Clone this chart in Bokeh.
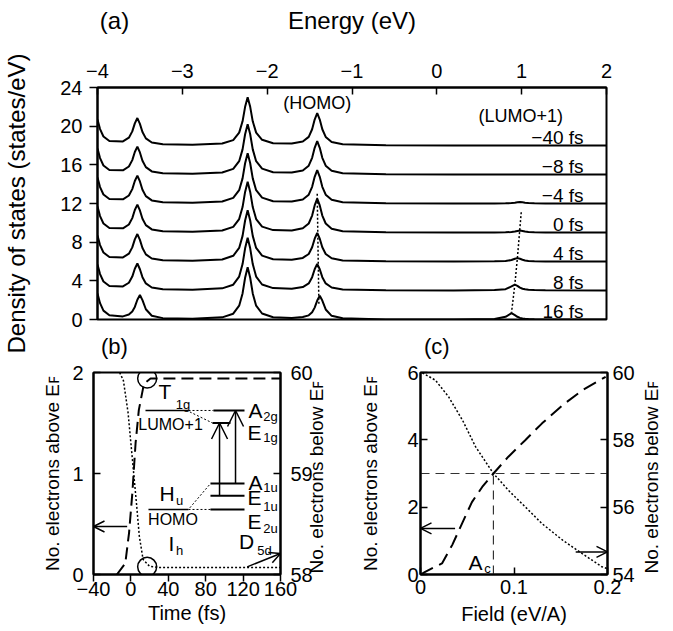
import math
from bokeh.plotting import figure
from bokeh.layouts import column, row
from bokeh.models import Range1d, LinearAxis, Label, Arrow, OpenHead, FixedTicker
from bokeh.embed import file_html
from bokeh.resources import INLINE
from bokeh.core.properties import value

FONT = "Liberation Sans"

# ---------------- (a) density of states ----------------
energy = [-4.00, -3.97, -3.93, -3.86, -3.70, -3.63, -3.59, -3.56, -3.53, -3.50, -3.47, -3.43, -3.36, -3.23, -2.88,
          -2.53, -2.40, -2.33, -2.29, -2.26, -2.23, -2.20, -2.17, -2.13, -2.06, -1.93,
          -1.71, -1.58, -1.51, -1.47, -1.44, -1.41, -1.38, -1.35, -1.31, -1.24, -1.11,
          -0.60, 0.20, 0.68, 0.81, 0.88, 0.92, 0.95, 0.98, 1.01, 1.04, 1.08, 1.15, 1.28, 2.00]
delay_labels = ["−40 fs", "−8 fs", "−4 fs", "0 fs", "4 fs", "8 fs", "16 fs"]
delay_offsets = [18, 15, 12, 9, 6, 3, 0]
dos_m40 = [2.69, 1.70, 0.93, 0.46, 0.42, 0.81, 1.46, 2.29, 2.84, 2.24, 1.40, 0.74, 0.31, 0.13, 0.07,
           0.20, 0.56, 1.33, 2.50, 4.00, 5.00, 4.00, 2.50, 1.33, 0.59, 0.23,
           0.20, 0.41, 0.89, 1.68, 2.68, 3.35, 2.68, 1.68, 0.89, 0.37, 0.13,
           0.02, 0.00, 0.00, 0.00, 0.00, 0.00, 0.00, 0.00, 0.00, 0.00, 0.00, 0.00, 0.00, 0.00]
dos_m8 = [2.69, 1.70, 0.93, 0.46, 0.43, 0.83, 1.49, 2.33, 2.89, 2.28, 1.43, 0.76, 0.32, 0.13, 0.07,
          0.21, 0.58, 1.38, 2.60, 4.16, 5.20, 4.16, 2.60, 1.38, 0.61, 0.24,
          0.20, 0.42, 0.91, 1.73, 2.76, 3.45, 2.76, 1.73, 0.91, 0.38, 0.13,
          0.02, 0.00, 0.00, 0.00, 0.00, 0.00, 0.00, 0.00, 0.00, 0.00, 0.00, 0.00, 0.00, 0.00]
dos_m4 = [2.69, 1.70, 0.93, 0.46, 0.43, 0.83, 1.49, 2.33, 2.89, 2.28, 1.43, 0.76, 0.32, 0.13, 0.07,
          0.21, 0.58, 1.38, 2.60, 4.16, 5.20, 4.16, 2.60, 1.38, 0.61, 0.24,
          0.20, 0.42, 0.91, 1.73, 2.76, 3.45, 2.76, 1.73, 0.91, 0.38, 0.13,
          0.02, 0.00, 0.01, 0.02, 0.04, 0.08, 0.12, 0.15, 0.12, 0.08, 0.04, 0.02, 0.01, 0.00]
dos_0 = [2.69, 1.70, 0.93, 0.46, 0.43, 0.83, 1.49, 2.33, 2.89, 2.28, 1.43, 0.76, 0.32, 0.13, 0.07,
         0.21, 0.58, 1.39, 2.63, 4.20, 5.25, 4.20, 2.63, 1.39, 0.61, 0.25,
         0.20, 0.43, 0.93, 1.75, 2.80, 3.50, 2.80, 1.75, 0.93, 0.39, 0.13,
         0.02, 0.00, 0.01, 0.02, 0.05, 0.10, 0.16, 0.20, 0.16, 0.10, 0.05, 0.02, 0.01, 0.00]
dos_4 = [2.69, 1.70, 0.93, 0.46, 0.42, 0.81, 1.46, 2.29, 2.84, 2.24, 1.40, 0.74, 0.31, 0.13, 0.07,
         0.21, 0.59, 1.40, 2.65, 4.24, 5.30, 4.24, 2.65, 1.40, 0.61, 0.24,
         0.18, 0.37, 0.78, 1.48, 2.36, 2.95, 2.36, 1.48, 0.78, 0.33, 0.11,
         0.02, 0.00, 0.02, 0.05, 0.15, 0.28, 0.35, 0.28, 0.18, 0.11, 0.06, 0.03, 0.01, 0.00]
dos_8 = [2.69, 1.70, 0.93, 0.46, 0.42, 0.80, 1.44, 2.25, 2.79, 2.20, 1.38, 0.73, 0.31, 0.13, 0.07,
         0.22, 0.60, 1.44, 2.73, 4.36, 5.45, 4.36, 2.73, 1.44, 0.62, 0.25,
         0.18, 0.36, 0.73, 1.38, 2.20, 2.75, 2.20, 1.38, 0.73, 0.31, 0.11,
         0.02, 0.00, 0.04, 0.14, 0.42, 0.60, 0.48, 0.30, 0.18, 0.12, 0.07, 0.04, 0.02, 0.00]
dos_16 = [2.68, 1.69, 0.92, 0.44, 0.32, 0.51, 0.83, 1.30, 2.04, 2.53, 2.00, 1.06, 0.39, 0.14, 0.07,
          0.22, 0.60, 1.43, 2.70, 4.32, 5.40, 4.32, 2.70, 1.43, 0.62, 0.24,
          0.15, 0.25, 0.43, 0.75, 1.23, 1.96, 2.45, 1.96, 1.04, 0.38, 0.12,
          0.01, 0.00, 0.05, 0.28, 0.65, 0.45, 0.28, 0.17, 0.11, 0.08, 0.05, 0.03, 0.01, 0.00]
dos_curves = [dos_m40, dos_m8, dos_m4, dos_0, dos_4, dos_8, dos_16]
homo_trace_e = [-1.41, -1.40, -1.39]
homo_trace_y = [13.0, 7.0, 1.45]
lumo_trace_e = [0.995, 0.975, 0.95, 0.92, 0.88]
lumo_trace_y = [11.1, 9.0, 6.4, 3.65, 0.7]
energy_ticks = [-4, -3, -2, -1, 0, 1, 2]
energy_tick_text = ["−4", "−3", "−2", "−1", "0", "1", "2"]
dos_ticks = [0, 4, 8, 12, 16, 20, 24]
orbital_names = ["(HOMO)", "(LUMO+1)"]
orbital_e = [-1.41, 0.99]
orbital_y = [22.4, 21.1]
delay_label_e = 1.73
top_title_e = [-3.80, -1.0]
top_title_text = ["(a)", "Energy (eV)"]
lower_tag_e = [-3.80, 0.0]
lower_tag_text = ["(b)", "(c)"]

# ---------------- (b) time evolution ----------------
time_above = [-15, -6, -2, 1.5, 5, 8.5, 14, 21, 160]
n_above_b = [0.0, 0.11, 0.41, 0.80, 1.30, 1.63, 1.89, 1.94, 1.94]
time_below = [-12, -8, -3, 1, 3, 6, 9, 13, 20, 30, 160]
n_below_b = [60.0, 59.92, 59.6, 59.2, 59.0, 58.7, 58.38, 58.15, 58.08, 58.07, 58.07]
time_ticks = [-40, 0, 40, 80, 120, 160]
time_tick_text = ["−40", "0", "40", "80", "120", "160"]
circle_t = [17.4, 17.4]
circle_n = [1.94, 0.076]
ih_t0 = [15.6, 18.8]
ih_t1 = [61.6, 61.6]
ih_level = [1.624, 0.644]
d5d_t0 = [88.3, 87.3, 85.1, 85.1, 85.1]
d5d_t1 = [121.5, 106.5, 121.5, 121.5, 121.5]
d5d_level = [1.624, 1.50, 0.90, 0.78, 0.644]
corr_t0 = [61.6, 63.0, 61.6, 63.0]
corr_v0 = [1.624, 1.61, 0.644, 0.66]
corr_t1 = [88.3, 87.3, 85.1, 85.1]
corr_v1 = [1.624, 1.50, 0.644, 0.90]
excite_t = [94.8, 111.9]
excite_from = [0.78, 0.90]
excite_to = [1.50, 1.624]
inset_text = ["T", "1g", "LUMO+1", "H", "u", "HOMO", "I", "h", "D", "5d",
              "A", "2g", "E", "1g", "A", "1u", "E", "1u", "E", "2u"]
inset_t = [36.5, 55.7, 42.4, 38.6, 52.0, 45.0, 43.4, 52.0, 123.6, 142.9,
           133.3, 149.3, 132.2, 149.3, 133.3, 149.3, 132.2, 149.3, 132.2, 149.3]
inset_v = [1.807, 1.683, 1.485, 0.802, 0.733, 0.545, 0.307, 0.238, 0.327, 0.233,
           1.619, 1.564, 1.406, 1.356, 0.911, 0.861, 0.762, 0.678, 0.525, 0.455]
inset_size = [21, 13, 16, 21, 13, 16, 21, 13, 21, 13,
              21, 13, 21, 13, 21, 13, 21, 13, 21, 13]

# ---------------- (c) field dependence ----------------
field_above = [0.0, 0.005, 0.023, 0.034, 0.045, 0.055, 0.066, 0.078, 0.094, 0.112, 0.130, 0.152, 0.173, 0.198]
n_above_c = [0.0, 0.08, 0.33, 0.88, 1.55, 2.15, 2.6, 3.0, 3.5, 3.99, 4.49, 5.03, 5.47, 5.87]
field_below = [0.002, 0.016, 0.030, 0.045, 0.059, 0.078, 0.094, 0.112, 0.130, 0.152, 0.173, 0.194, 0.200]
n_below_c = [59.99, 59.77, 59.28, 58.58, 57.79, 57.0, 56.5, 56.01, 55.51, 55.02, 54.62, 54.23, 54.17]
ac_field = 0.078
ac_count = 3.0
field_ticks = [0, 0.1, 0.2]
field_tick_text = ["0", "0.1", "0.2"]

LABEL_ABOVE = "No. electrons above E\ua730"
LABEL_BELOW = "No. electrons below E\ua730"


def style_axis(ax, ticks, tin, tout, standoff, overrides=None, size="20px"):
    ax.ticker = FixedTicker(ticks=ticks)
    ax.major_tick_in = tin
    ax.major_tick_out = tout
    ax.minor_tick_line_color = None
    ax.major_tick_line_width = 1.5
    ax.major_tick_line_color = "black"
    ax.axis_line_width = 2
    ax.axis_line_color = "black"
    ax.major_label_standoff = standoff
    ax.major_label_text_font = FONT
    ax.major_label_text_font_size = size
    ax.major_label_text_color = "black"
    ax.axis_label_text_font = FONT
    ax.axis_label_text_font_size = "20px"
    ax.axis_label_text_font_style = "normal"
    ax.axis_label_text_color = "black"
    if overrides:
        ax.major_label_overrides = overrides


def text_axis(ticks, texts, standoff, size, range_name=None):
    ax = LinearAxis() if range_name is None else LinearAxis(y_range_name=range_name)
    style_axis(ax, ticks, 0, 0, standoff, dict(zip(ticks, texts)), size=size)
    ax.axis_line_color = None
    ax.major_tick_line_color = None
    return ax


def right_title_axis(p, range_name, start_value, text, standoff):
    # a rotated label that starts at start_value and reads upwards
    ax = text_axis([start_value], [text], standoff, "19px", range_name=range_name)
    ax.major_label_orientation = math.pi / 2
    p.add_layout(ax, "right")


def add_label(p, x, y, text, size, align="left", baseline="middle", angle=0.0):
    p.add_layout(Label(x=x, y=y, text=text, text_font=FONT, text_font_size=f"{size}px",
                       text_align=align, text_baseline=baseline, angle=angle, text_color="black"))


def base_fig(xr, yr, fw, fh, left, right, top, bottom, xloc="below"):
    p = figure(frame_width=fw, frame_height=fh, x_range=xr, y_range=yr,
               x_axis_location=xloc, output_backend="svg", toolbar_location=None,
               min_border_left=left, min_border_right=right, min_border_top=top, min_border_bottom=bottom)
    p.grid.visible = False
    p.outline_line_color = "black"
    p.outline_line_width = 2
    p.background_fill_color = "white"
    p.border_fill_color = "white"
    return p


# ---------- figure (a)
pa = base_fig(Range1d(-4, 2), Range1d(0, 24), 509, 232, 93, 63, 87, 39, xloc="above")
style_axis(pa.xaxis[0], energy_ticks, 7, 0, 10, dict(zip(energy_ticks, energy_tick_text)))
style_axis(pa.yaxis[0], dos_ticks, 0, 8, 7)
pa.yaxis[0].axis_label = "Density of states (states/eV)"
pa.yaxis[0].axis_label_text_font_size = "24px"
pa.yaxis[0].axis_label_standoff = 27
pa.add_layout(text_axis(top_title_e, top_title_text, 27, "24px"), "above")
pa.add_layout(text_axis(lower_tag_e, lower_tag_text, 14, "22px"), "below")

for curve, off in zip(dos_curves, delay_offsets):
    pa.line(energy, [v + off for v in curve], line_color="black", line_width=2)
pa.line(homo_trace_e, homo_trace_y, line_color="black", line_width=1.5, line_dash="2 2")
pa.line(lumo_trace_e, lumo_trace_y, line_color="black", line_width=1.5, line_dash="2 2")
pa.text(x=[delay_label_e] * len(delay_labels), y=[o + 0.8 for o in delay_offsets], text=delay_labels,
        text_align="right", text_baseline="middle", text_font=value(FONT),
        text_font_size="19px", text_color="black")
pa.text(x=orbital_e, y=orbital_y, text=orbital_names, text_align="center", text_baseline="middle",
        text_font=value(FONT), text_font_size="18px", text_color="black")

# ---------- figure (b)
pb = base_fig(Range1d(-40, 160), Range1d(0, 2), 187, 202, 93, 55, 11, 56)
pb.extra_y_ranges = {"below": Range1d(58, 60)}
pb.add_layout(LinearAxis(y_range_name="below"), "right")
style_axis(pb.xaxis[0], time_ticks, 0, 7, 0, dict(zip(time_ticks, time_tick_text)))
style_axis(pb.yaxis[0], [0, 1, 2], 7, 0, 10)
style_axis(pb.yaxis[1], [58, 59, 60], 7, 0, 10)
pb.xaxis[0].axis_label = "Time (fs)"
pb.xaxis[0].axis_label_standoff = 3
pb.yaxis[0].axis_label = LABEL_ABOVE
pb.yaxis[0].axis_label_text_font_size = "19px"
pb.yaxis[0].axis_label_standoff = 6
right_title_axis(pb, "below", 58.01, LABEL_BELOW, 1)

pb.line(time_above, n_above_b, line_color="black", line_width=2, line_dash="12 6")
pb.line(time_below, n_below_b, y_range_name="below", line_color="black", line_width=1.5, line_dash="2 2")
pb.scatter(circle_t, circle_n, marker="circle", size=19, fill_color=None, line_color="black", line_width=1.5)
pb.segment(ih_t0, ih_level, ih_t1, ih_level, line_color="black", line_width=1.5)
pb.segment(d5d_t0, d5d_level, d5d_t1, d5d_level, line_color="black", line_width=2)
pb.segment(corr_t0, corr_v0, corr_t1, corr_v1, line_color="black", line_width=1, line_dash="2 2")
for tx, v0, v1 in zip(excite_t, excite_from, excite_to):
    pb.add_layout(Arrow(end=OpenHead(size=16, line_width=1.5, line_color="black"),
                        x_start=tx, y_start=v0, x_end=tx, y_end=v1, line_width=1.5, line_color="black"))
pb.add_layout(Arrow(end=OpenHead(size=11, line_width=1.5, line_color="black"),
                    x_start=-4, y_start=0.475, x_end=-40, y_end=0.475, line_width=1.5, line_color="black"))
pb.add_layout(Arrow(end=OpenHead(size=11, line_width=1.5, line_color="black"),
                    x_start=124.4, y_start=0.076, x_end=160, y_end=0.208, line_width=1.5, line_color="black"))
for txt, tx, tv, sz in zip(inset_text, inset_t, inset_v, inset_size):
    add_label(pb, tx, tv, txt, sz, align="center")

# ---------- figure (c)
pc = base_fig(Range1d(0, 0.2), Range1d(0, 6), 187, 202, 80, 63, 11, 56)
pc.extra_y_ranges = {"below": Range1d(54, 60)}
pc.add_layout(LinearAxis(y_range_name="below"), "right")
style_axis(pc.xaxis[0], field_ticks, 7, 0, 5, dict(zip(field_ticks, field_tick_text)))
style_axis(pc.yaxis[0], [0, 2, 4, 6], 7, 0, 2)
style_axis(pc.yaxis[1], [54, 56, 58, 60], 7, 0, 5)
pc.xaxis[0].axis_label = "Field (eV/A)"
pc.xaxis[0].axis_label_standoff = 6
pc.yaxis[0].axis_label = LABEL_ABOVE
pc.yaxis[0].axis_label_text_font_size = "19px"
pc.yaxis[0].axis_label_standoff = 23
right_title_axis(pc, "below", 54.03, LABEL_BELOW, 14)

pc.line([0, 0.2], [ac_count, ac_count], line_color="#333333", line_width=1.2, line_dash="9 6")
pc.line([ac_field, ac_field], [0, ac_count], line_color="#333333", line_width=1.2, line_dash="9 6")
pc.line(field_above, n_above_c, line_color="black", line_width=2, line_dash="14 7")
pc.line(field_below, n_below_c, y_range_name="below", line_color="black", line_width=1.5, line_dash="2 2")
pc.add_layout(Arrow(end=OpenHead(size=11, line_width=1.5, line_color="black"),
                    x_start=0.037, y_start=1.37, x_end=0.0, y_end=1.37, line_width=1.5, line_color="black"))
pc.add_layout(Arrow(end=OpenHead(size=11, line_width=1.5, line_color="black"),
                    x_start=0.166, y_start=0.67, x_end=0.2, y_end=0.67, line_width=1.5, line_color="black"))
add_label(pc, 0.0588, 0.356, "A", 21, align="center")
add_label(pc, 0.0717, 0.178, "c", 13, align="center")

layout = column(pa, row(pb, pc))
open("out.html", "w").write(file_html(layout, INLINE))
